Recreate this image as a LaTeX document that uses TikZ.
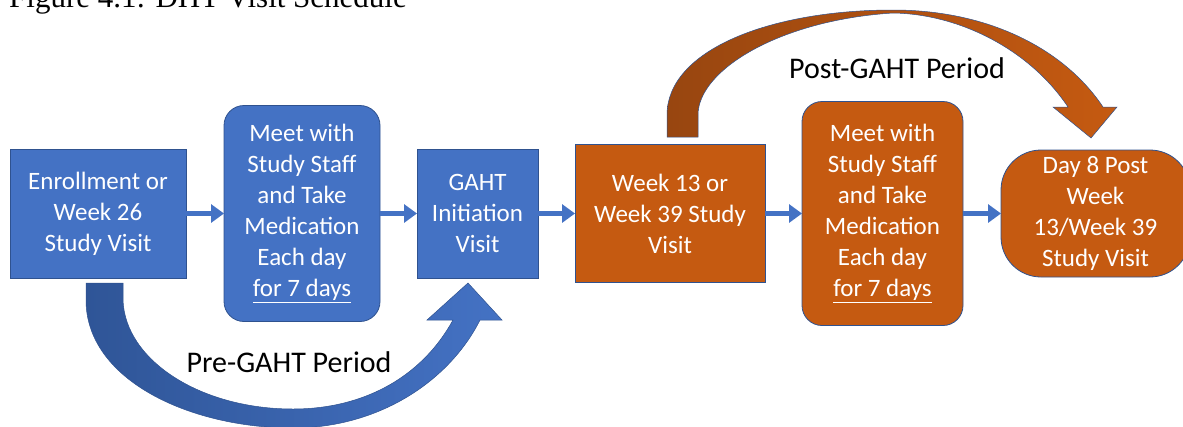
\documentclass[tikz,border=0pt]{standalone}
\usepackage{fontspec}
\setmainfont{Carlito}
\newfontfamily\capfont{Liberation Serif}
\usetikzlibrary{shapes,arrows.meta,positioning}
\definecolor{visitblue}{HTML}{4472C4}
\definecolor{darkblue}{HTML}{2F5597}
\definecolor{edgeblue}{HTML}{2F528F}
\definecolor{visitorange}{HTML}{C55A11}
\definecolor{darkorange}{HTML}{984610}

\begin{document}
\begin{tikzpicture}[x=1pt, y=-1pt,
        box/.style={rectangle, draw=edgeblue, line width=0.8pt, text=white, align=center, inner sep=0pt, outer sep=0pt, font=\fontsize{25}{31}\selectfont},
        visit/.style={box, fill=visitblue},
        later/.style={box, fill=visitorange},
        period/.style={font=\fontsize{30}{36}\selectfont},
        arrow/.style={-{Triangle[length=13pt,width=18pt]}, line width=5pt, visitblue}]
        \useasboundingbox (0,0) rectangle (1183,426);

        % Caption (cut off at the top)
        \node[anchor=base west, inner sep=0pt, font=\capfont\fontsize{31}{31}\selectfont] (caption) at (9,7) {Figure 4.1: DHT Visit Schedule};

        % Period arrows (behind)
        \path[draw=edgeblue, line width=0.5pt, left color=darkblue, right color=visitblue]
            (86,283) -- (86,300) .. controls (86,380) and (190,428) .. (293,428)
            .. controls (380,428) and (450,380) .. (480,320) -- (502,320) -- (468,283) -- (427,320) -- (453,320)
            .. controls (420,380) and (360,409) .. (293,409) .. controls (200,409) and (125,360) .. (123,300)
            -- (123,283) -- cycle;
        \path[draw=edgeblue, line width=0.5pt, left color=darkorange, right color=visitorange]
            (667,137) -- (667,115) .. controls (667,50) and (770,10) .. (893,10)
            .. controls (990,10) and (1065,50) .. (1103,107) -- (1117,107) -- (1091,138) -- (1053,107) -- (1068,107)
            .. controls (1030,50) and (960,14) .. (893,13) .. controls (780,20) and (698,70) .. (698,115)
            -- (698,137) -- cycle;
        \node[period] (pre) at (289,362) {Pre-GAHT Period};
        \node[period] (post) at (897,68) {Post-GAHT Period};

        % Visits before GAHT
        \node[visit, minimum width=176pt, minimum height=129pt] (enroll) at (98,213.5) {Enrollment or\\Week 26\\Study Visit};
        \node[visit, rounded corners=20pt, minimum width=156pt, minimum height=216pt, right=38pt of enroll] (medpre) {Meet with\\Study Staff\\and Take\\Medication\\Each day\\\underline{for 7 days}};
        \node[visit, minimum width=121pt, minimum height=129pt, right=37pt of medpre] (gaht) {GAHT\\Initiation\\Visit};

        % Visits after GAHT
        \node[later, minimum width=190pt, minimum height=138pt, right=37pt of gaht] (week13) {Week 13 or\\Week 39 Study\\Visit};
        \node[later, rounded corners=20pt, minimum width=161pt, minimum height=224pt, right=37pt of week13] (medpost) {Meet with\\Study Staff\\and Take\\Medication\\Each day\\\underline{for 7 days}};
        \node[later, rounded corners=40pt, minimum width=189pt, minimum height=127pt, right=38pt of medpost] (day8) {Day 8 Post\\Week\\13/Week 39\\Study Visit};

        % Arrows
        \draw[arrow] (enroll) -- (medpre);
        \draw[arrow] (medpre) -- (gaht);
        \draw[arrow] (gaht) -- (week13);
        \draw[arrow] (week13) -- (medpost);
        \draw[arrow] (medpost) -- (day8);
    \end{tikzpicture}
\end{document}
